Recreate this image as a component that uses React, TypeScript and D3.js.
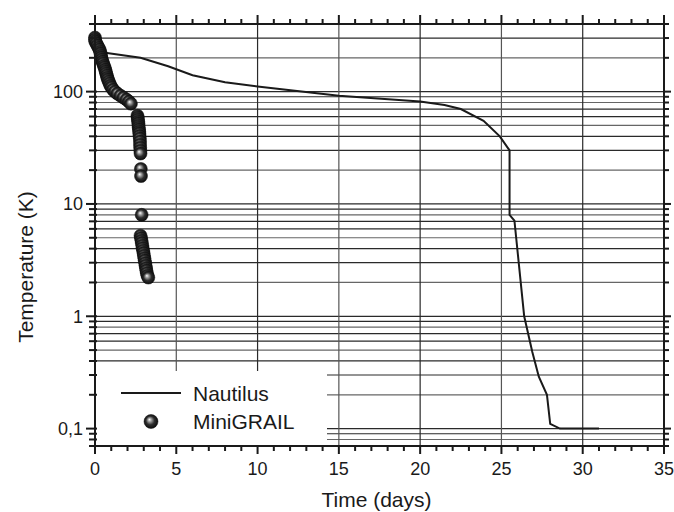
import React, { useEffect, useRef } from 'react';
import * as d3 from 'd3';

// Nautilus cool-down curve
const nautilusDays = [0.3, 2.8, 4.5, 6.0, 8.0, 10, 15, 20, 21.5, 22.5, 23.9, 24.9, 25.5, 25.5, 25.8, 26.4, 26.9, 27.3, 27.8, 28.0, 28.6, 31.0];
const nautilusTemp = [225, 200, 168, 140, 121, 111, 92, 81.5, 76, 70, 55, 40, 30, 8, 7.1, 1.0, 0.48, 0.29, 0.2, 0.11, 0.1, 0.1];

// MiniGRAIL measured points
const miniDays = [
  0, 0, 0.02, 0.09, 0.15, 0.22, 0.28, 0.32, 0.34, 0.37, 0.39, 0.42, 0.46, 0.5, 0.55, 0.59, 0.63,
  0.66, 0.69, 0.73, 0.76, 0.8, 0.85, 0.9, 0.95, 1.02, 1.11, 1.23, 1.38, 1.57, 1.75, 1.94, 2.09, 2.21,
  2.61, 2.63, 2.64, 2.66, 2.67, 2.68, 2.69, 2.71, 2.72, 2.73, 2.74, 2.76, 2.77, 2.77, 2.78, 2.79, 2.8,
  2.82, 2.83, 2.87,
  2.8, 2.83, 2.86, 2.88, 2.91, 2.93, 2.96, 2.99, 3.01, 3.04, 3.06, 3.09, 3.11, 3.14, 3.16, 3.19, 3.23, 3.28
];
const miniTemp = [
  303, 290, 279, 268, 257, 246, 237, 227, 218, 209, 201, 193, 185, 178, 170, 164, 157,
  151, 145, 139, 133, 128, 123, 118, 113, 109, 104, 100, 96, 92, 88.5, 85, 81.5, 78,
  61.1, 58.6, 56.3, 54.0, 51.9, 49.8, 47.8, 45.9, 44.0, 42.3, 40.2, 38.2, 35.9, 33.7, 31.7, 29.8, 28.1,
  20.5, 17.7, 8.0,
  5.22, 4.96, 4.71, 4.48, 4.25, 4.04, 3.84, 3.65, 3.46, 3.29, 3.13, 2.97, 2.82, 2.68, 2.55, 2.42, 2.3, 2.21
];

const xMajor = [0, 5, 10, 15, 20, 25, 30, 35];
const yMajor = [0.1, 1, 10, 100];
const yMajorLabels = ['0,1', '1', '10', '100'];
const legendNames = ['Nautilus', 'MiniGRAIL'];

const font = '"Liberation Sans", Arial, Helvetica, sans-serif';
const ink = '#1a1a1a';

export default function App() {
  const ref = useRef<SVGSVGElement>(null);

  useEffect(() => {
    const svg = d3.select(ref.current);
    svg.selectAll('*').remove();

    const left = 95, right = 664, top = 24, bottom = 446;
    const x = d3.scaleLinear().domain([0, 35]).range([left, right]);
    const y = d3.scaleLog().domain([0.07, 400]).range([bottom, top]);

    const defs = svg.append('defs');
    const grad = defs.append('radialGradient')
      .attr('id', 'ball')
      .attr('cx', '50%').attr('cy', '50%').attr('r', '55%')
      .attr('fx', '38%').attr('fy', '35%');
    grad.append('stop').attr('offset', '0%').attr('stop-color', '#ffffff');
    grad.append('stop').attr('offset', '20%').attr('stop-color', '#aaaaaa');
    grad.append('stop').attr('offset', '55%').attr('stop-color', '#2e2e2e');
    grad.append('stop').attr('offset', '100%').attr('stop-color', '#050505');

    // grid
    const grid = svg.append('g');
    grid.selectAll('.hg')
      .data(y.ticks())
      .enter().append('line')
      .attr('x1', left).attr('x2', right)
      .attr('y1', d => y(d)).attr('y2', d => y(d))
      .attr('stroke', (d, i) => (i % 3 === 1 ? '#666' : '#2a2a2a'))
      .attr('stroke-width', 1.2);
    grid.selectAll('.vg')
      .data(xMajor.slice(1, -1))
      .enter().append('line')
      .attr('x1', d => x(d)).attr('x2', d => x(d))
      .attr('y1', top).attr('y2', bottom)
      .attr('stroke', (d, i) => (i % 2 === 0 ? '#555' : '#2a2a2a'))
      .attr('stroke-width', 1.2);

    // legend background hides the grid
    svg.append('rect')
      .attr('x', left).attr('y', 371)
      .attr('width', 232).attr('height', bottom - 371)
      .attr('fill', '#fff');

    // Nautilus line
    const pts = nautilusDays.map((d, i) => [d, nautilusTemp[i]] as [number, number]);
    svg.append('path')
      .datum(pts)
      .attr('d', d3.line<[number, number]>().x(d => x(d[0])).y(d => y(d[1])))
      .attr('fill', 'none')
      .attr('stroke', ink)
      .attr('stroke-width', 2);

    // MiniGRAIL markers
    svg.append('g').selectAll('circle')
      .data(miniDays.map((d, i) => [d, miniTemp[i]]))
      .enter().append('circle')
      .attr('cx', d => x(d[0]))
      .attr('cy', d => y(d[1]))
      .attr('r', 6.5)
      .attr('fill', 'url(#ball)')
      .attr('stroke', '#111')
      .attr('stroke-width', 0.5);

    // frame
    const axes = svg.append('g').attr('stroke', ink).attr('stroke-width', 2);
    axes.append('rect')
      .attr('x', left).attr('y', top)
      .attr('width', right - left).attr('height', bottom - top)
      .attr('fill', 'none');

    const xMinor = x.ticks(35);
    const isXMajor = (d: number) => xMajor.indexOf(d) >= 0;
    axes.selectAll('.bt').data(xMinor).enter().append('line')
      .attr('x1', d => x(d)).attr('x2', d => x(d))
      .attr('y1', bottom - 1).attr('y2', d => bottom + (isXMajor(d) ? 8 : 5));
    axes.selectAll('.tt').data(xMinor).enter().append('line')
      .attr('x1', d => x(d)).attr('x2', d => x(d))
      .attr('y1', top + 1).attr('y2', d => top - (isXMajor(d) ? 9 : 5));

    const yMinor = y.ticks();
    const isYMajor = (d: number) => yMajor.some(m => Math.abs(m - d) < 1e-9);
    axes.selectAll('.lt').data(yMinor).enter().append('line')
      .attr('y1', d => y(d)).attr('y2', d => y(d))
      .attr('x1', left + 2).attr('x2', d => left - (isYMajor(d) ? 9 : 6));
    axes.selectAll('.rt').data(yMinor).enter().append('line')
      .attr('y1', d => y(d)).attr('y2', d => y(d))
      .attr('x1', right - 1).attr('x2', d => right + (isYMajor(d) ? 7 : 5));

    // tick labels
    const labels = svg.append('g')
      .attr('font-family', font).attr('font-size', 18).attr('fill', ink);
    labels.selectAll('.xl').data(xMajor).enter().append('text')
      .attr('x', d => x(d)).attr('y', 475)
      .attr('text-anchor', 'middle')
      .text(d => String(d));
    labels.selectAll('.yl').data(yMajor).enter().append('text')
      .attr('x', 83).attr('y', d => y(d) + 6.5)
      .attr('text-anchor', 'end')
      .text((d, i) => yMajorLabels[i]);

    // titles
    const titles = svg.append('g')
      .attr('font-family', font).attr('font-size', 21).attr('fill', ink);
    titles.append('text')
      .attr('x', (left + right) / 2 - 3).attr('y', 507)
      .attr('text-anchor', 'middle')
      .text('Time (days)');
    titles.append('text')
      .attr('transform', 'translate(33,267) rotate(-90)')
      .attr('text-anchor', 'middle')
      .text('Temperature (K)');

    // legend
    const lg = svg.append('g');
    lg.append('line')
      .attr('x1', 121).attr('x2', 181).attr('y1', 393).attr('y2', 393)
      .attr('stroke', ink).attr('stroke-width', 2);
    lg.append('circle')
      .attr('cx', 151).attr('cy', 421.5).attr('r', 7)
      .attr('fill', 'url(#ball)')
      .attr('stroke', '#111').attr('stroke-width', 0.5);
    lg.selectAll('text').data(legendNames).enter().append('text')
      .attr('x', 193).attr('y', (d, i) => 401 + i * 28)
      .attr('font-family', font).attr('font-size', 21).attr('fill', ink)
      .text(d => d);
  }, []);

  return (
    <svg
      ref={ref}
      width={674}
      height={512}
      style={{ position: 'absolute', left: 0, top: 0, background: '#fff' }}
    />
  );
}
